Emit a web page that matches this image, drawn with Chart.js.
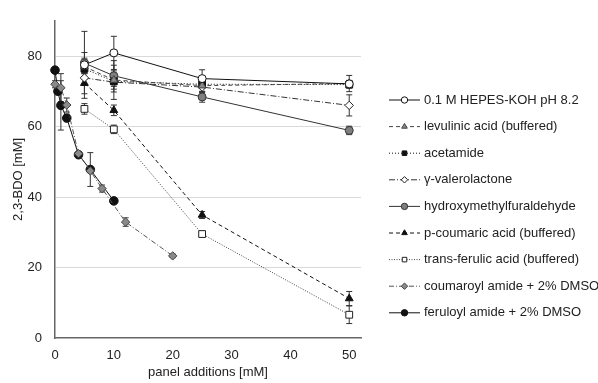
<!DOCTYPE html>
<html>
<head>
<meta charset="utf-8">
<script src="https://cdn.jsdelivr.net/npm/chart.js@4.4.0/dist/chart.umd.min.js"></script>
<style>
  html, body { margin: 0; padding: 0; background: #fff; }
  canvas { display: block; }
</style>
</head>
<body>
<canvas id="bdoChart" width="598" height="383"></canvas>
<script>
/* ---------- DATA ---------- */
const seriesNames = [
  "0.1 M HEPES-KOH pH 8.2",
  "levulinic acid (buffered)",
  "acetamide",
  "γ-valerolactone",
  "hydroxymethylfuraldehyde",
  "p-coumaric acid (buffered)",
  "trans-ferulic acid (buffered)",
  "coumaroyl amide + 2% DMSO",
  "feruloyl amide + 2% DMSO"
];

const panelConc = [5, 10, 25, 50];
const coumaroylConc = [0, 1, 2, 4, 6, 8, 12, 20];
const feruloylConc = [0, 0.5, 1, 2, 4, 6, 10];

const hepes = [77.5, 80.9, 73.6, 72.1];
const levulinic = [77.0, 73.2, 71.6, 72.2];
const acetamide = [76.4, 72.8, 72.0, 71.9];
const valerolactone = [73.8, 72.6, 71.2, 66.0];
const hmf = [78.0, 74.4, 68.4, 58.9];
const pCoumaric = [72.3, 64.6, 34.9, 11.2];
const transFerulic = [65.0, 59.2, 29.5, 6.6];
const coumaroyl = [72.0, 71.0, 66.1, 52.3, 47.4, 42.4, 32.9, 23.3];
const feruloyl = [76.0, 70.0, 66.0, 62.4, 52.0, 47.8, 38.9];

const hepesErr = [9.5, 4.7, 2.5, 1.0];
const levulinicErr = [2.0, 5.5, 2.0, 2.3];
const acetamideErr = [3.0, 3.0, 2.0, 1.0];
const valerolactoneErr = [2.0, 2.0, 1.5, 3.0];
const hmfErr = [3.0, 3.0, 1.5, 1.2];
const pCoumaricErr = [3.0, 1.5, 1.0, 2.0];
const transFerulicErr = [1.5, 1.2, 0.8, 2.5];
const coumaroylErr = [1.0, 4.0, 2.0, 0, 0, 1.0, 1.2, 0.5];
const feruloylErr = [0, 0, 7.0, 1.0, 0, 4.8, 0];

/* ---------- HELPERS ---------- */
function pts(xs, ys, errs) {
  return xs.map((x, i) => ({ x: x, y: ys[i], err: errs[i] }));
}

function series(label, data, opts) {
  return Object.assign({
    label: label,
    data: data,
    showLine: true,
    borderWidth: 1,
    pointBorderWidth: 1,
    pointRadius: 4,
    clip: false
  }, opts);
}

const FONT = "'Liberation Sans', Arial, sans-serif";

/* ---------- PLUGINS ---------- */
const errorBars = {
  id: "errorBars",
  beforeDatasetsDraw(chart) {
    const ctx = chart.ctx;
    const xs = chart.scales.x;
    const ys = chart.scales.y;
    ctx.save();
    ctx.strokeStyle = "#333";
    ctx.lineWidth = 1;
    chart.data.datasets.forEach(ds => {
      ds.data.forEach(p => {
        if (!p.err) return;
        const px = xs.getPixelForValue(p.x);
        const top = ys.getPixelForValue(p.y + p.err);
        const bot = ys.getPixelForValue(p.y - p.err);
        ctx.beginPath();
        ctx.moveTo(px, top); ctx.lineTo(px, bot);
        ctx.moveTo(px - 3, top); ctx.lineTo(px + 3, top);
        ctx.moveTo(px - 3, bot); ctx.lineTo(px + 3, bot);
        ctx.stroke();
      });
    });
    ctx.restore();
  }
};

const sideLegend = {
  id: "sideLegend",
  afterDraw(chart) {
    const ctx = chart.ctx;
    ctx.save();
    chart.data.datasets.forEach((ds, i) => {
      const y = 100 + i * 26.6;
      ctx.strokeStyle = ds.borderColor;
      ctx.lineWidth = 1;
      ctx.setLineDash(ds.borderDash || []);
      ctx.beginPath();
      ctx.moveTo(389, y); ctx.lineTo(420, y);
      ctx.stroke();
      ctx.setLineDash([]);
      ctx.fillStyle = ds.pointBackgroundColor;
      ctx.strokeStyle = ds.pointBorderColor;
      Chart.helpers.drawPoint(ctx, {
        pointStyle: ds.pointStyle,
        radius: 3.2,
        rotation: 0,
        borderWidth: 1
      }, 404.5, y);
      ctx.fillStyle = "#222";
      ctx.font = "13px " + FONT;
      ctx.textBaseline = "middle";
      ctx.fillText(ds.label, 424, y);
    });
    ctx.restore();
  }
};

/* ---------- CHART ---------- */
new Chart(document.getElementById("bdoChart"), {
  type: "scatter",
  data: {
    datasets: [
      series(seriesNames[0], pts(panelConc, hepes, hepesErr), {
        borderColor: "#111", pointStyle: "circle",
        pointBackgroundColor: "#fff", pointBorderColor: "#111"
      }),
      series(seriesNames[1], pts(panelConc, levulinic, levulinicErr), {
        borderColor: "#444", borderDash: [4, 3], pointStyle: "triangle", pointRadius: 4.5,
        pointBackgroundColor: "#8a8a8a", pointBorderColor: "#444"
      }),
      series(seriesNames[2], pts(panelConc, acetamide, acetamideErr), {
        borderColor: "#111", borderDash: [1, 2], pointStyle: "rect", pointRadius: 4.8,
        pointBackgroundColor: "#111", pointBorderColor: "#111"
      }),
      series(seriesNames[3], pts(panelConc, valerolactone, valerolactoneErr), {
        borderColor: "#333", borderDash: [6, 2, 1, 2], pointStyle: "rectRot", pointRadius: 4.2,
        pointBackgroundColor: "#fff", pointBorderColor: "#222"
      }),
      series(seriesNames[4], pts(panelConc, hmf, hmfErr), {
        borderColor: "#333", pointStyle: "circle",
        pointBackgroundColor: "#7f7f7f", pointBorderColor: "#333"
      }),
      series(seriesNames[5], pts(panelConc, pCoumaric, pCoumaricErr), {
        borderColor: "#111", borderDash: [4, 3], pointStyle: "triangle", pointRadius: 4.5,
        pointBackgroundColor: "#111", pointBorderColor: "#111"
      }),
      series(seriesNames[6], pts(panelConc, transFerulic, transFerulicErr), {
        borderColor: "#444", borderDash: [1, 1.5], pointStyle: "rect", pointRadius: 4.8,
        pointBackgroundColor: "#fff", pointBorderColor: "#222"
      }),
      series(seriesNames[7], pts(coumaroylConc, coumaroyl, coumaroylErr), {
        borderColor: "#555", borderDash: [5, 2, 1, 2], pointStyle: "rectRot", pointRadius: 4.2,
        pointBackgroundColor: "#8a8a8a", pointBorderColor: "#444"
      }),
      series(seriesNames[8], pts(feruloylConc, feruloyl, feruloylErr), {
        borderColor: "#111", pointStyle: "circle", pointRadius: 4.3,
        pointBackgroundColor: "#111", pointBorderColor: "#111"
      })
    ]
  },
  options: {
    responsive: false,
    animation: false,
    layout: { padding: { left: 0, top: 13, right: 237, bottom: 0 } },
    plugins: {
      legend: { display: false },
      tooltip: { enabled: false }
    },
    scales: {
      x: {
        type: "linear",
        min: 0,
        max: 52,
        afterFit: s => { s.height = 45; },
        grid: { display: false, drawTicks: false },
        border: { display: true, color: "#666", width: 1.5 },
        ticks: {
          stepSize: 10,
          includeBounds: false,
          padding: 10,
          color: "#222",
          font: { family: FONT, size: 13 }
        },
        title: {
          display: true,
          text: "panel additions [mM]",
          color: "#222",
          font: { family: FONT, size: 13 },
          padding: { top: 0, bottom: 3 }
        }
      },
      y: {
        min: 0,
        max: 90,
        afterFit: s => { s.width = 55; },
        grid: {
          drawTicks: false,
          color: ctx => ctx.tick && ctx.tick.value === 0 ? "rgba(0,0,0,0)" : "#d9d9d9"
        },
        border: { display: true, color: "#666", width: 1.5 },
        ticks: {
          stepSize: 20,
          includeBounds: false,
          padding: 13,
          color: "#222",
          font: { family: FONT, size: 13 }
        },
        title: {
          display: true,
          text: "2,3-BDO [mM]",
          color: "#222",
          font: { family: FONT, size: 13 },
          padding: { top: 11, bottom: 0 }
        }
      }
    }
  },
  plugins: [errorBars, sideLegend]
});
</script>
</body>
</html>
